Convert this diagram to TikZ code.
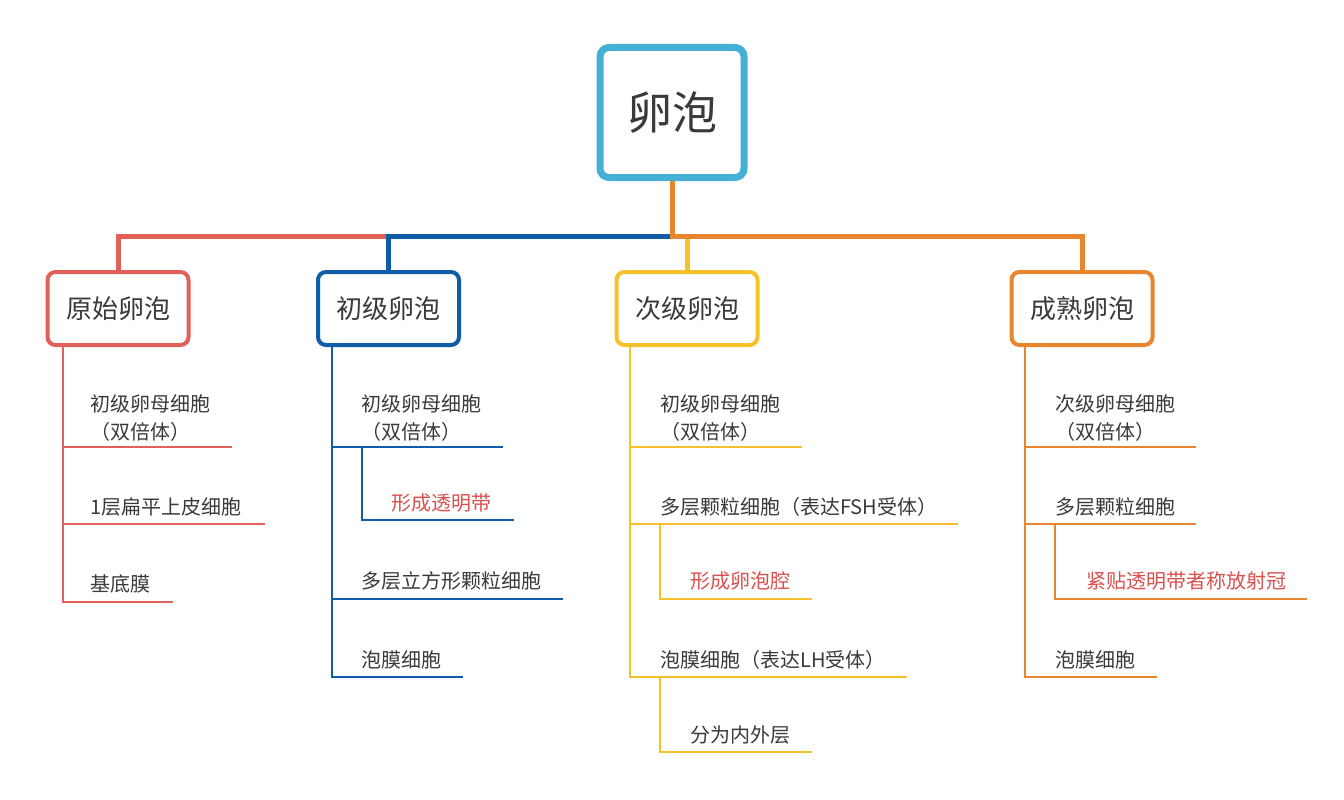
\documentclass[tikz,border=0pt]{standalone}
\usepackage{fontspec}
\setmainfont{Noto Sans CJK SC}
\usetikzlibrary{calc}
\definecolor{cRoot}{HTML}{45B0D5}
\definecolor{cRed}{HTML}{E2605A}
\definecolor{cBlue}{HTML}{0F5DA8}
\definecolor{cYel}{HTML}{F6C12A}
\definecolor{cOra}{HTML}{E8852D}
\definecolor{cTxt}{HTML}{3A3A3A}
\definecolor{cHi}{HTML}{D9514E}
\tikzset{
  rootbox/.style={draw=cRoot, line width=7pt, rounded corners=9pt, fill=white,
    minimum width=144pt, minimum height=130pt, inner sep=0pt,
    font=\fontsize{45}{50}\selectfont, text=cTxt},
  lvbox/.style={draw=#1, line width=4pt, rounded corners=8pt, fill=white,
    minimum width=141pt, minimum height=73pt, inner sep=0pt,
    font=\fontsize{26}{30}\selectfont, text=cTxt},
  bar/.style={draw=#1, line width=5pt, line join=miter},
  sub/.style={draw=#1, line width=1.5pt},
  item/.style={anchor=west, inner sep=0pt, align=left, text=cTxt,
    font=\fontsize{20}{28}\selectfont},
  hi/.style={item, text=cHi}
}
\begin{document}
\begin{tikzpicture}[x=1pt,y=-1pt]
\useasboundingbox (0,0) rectangle (1344,800);
\fill[white] (0,0) rectangle (1344,800);

% root and level boxes
\node[rootbox] (root) at (672,112.5) {卵泡};
\node[lvbox=cRed]  (L1) at (118,308.5) {原始卵泡};
\node[lvbox=cBlue] (L2) at (388.5,308.5) {初级卵泡};
\node[lvbox=cYel]  (L3) at (687,308.5) {次级卵泡};
\node[lvbox=cOra]  (L4) at (1082,308.5) {成熟卵泡};

\coordinate (jR) at (118,236);
\coordinate (jB) at (388.5,236);
\coordinate (jO) at (672,236);
\coordinate (jE) at (1082,236);
\coordinate (jY) at (687,236);

\draw[bar=cYel] (L3.north) -- (jY);
\draw[bar=cRed] (L1.north) -- (jR) -- (jB);
\draw[bar=cBlue] (L2.north) -- (jB) -- (jO);
\draw[bar=cOra] (root.south) -- (jO) -- (jE) -- (L4.north);

% ---------- column 1 (red)
\node[item] (a1) at (90,418) {初级卵母细胞\\（双倍体）};
\node[item] (a2) at (90,507) {1层扁平上皮细胞};
\node[item] (a3) at (90,584) {基底膜};
\coordinate (a1s) at (63,447); \coordinate (a1e) at (232,447);
\coordinate (a2s) at (63,524); \coordinate (a2e) at (265,524);
\coordinate (a3s) at (63,602); \coordinate (a3e) at (173,602);
\draw[sub=cRed] (L1.south -| a1s) -- (a3s) -- (a3e);
\draw[sub=cRed] (a1s) -- (a1e);
\draw[sub=cRed] (a2s) -- (a2e);

% ---------- column 2 (blue)
\node[item] (b1) at (361,418) {初级卵母细胞\\（双倍体）};
\node[hi]   (b2) at (391,503) {形成透明带};
\node[item] (b3) at (361,581) {多层立方形颗粒细胞};
\node[item] (b4) at (361,660) {泡膜细胞};
\coordinate (b1s) at (332,447); \coordinate (b1e) at (503,447);
\coordinate (b2s) at (362,447); \coordinate (b2m) at (362,520); \coordinate (b2e) at (514,520);
\coordinate (b3s) at (332,599); \coordinate (b3e) at (563,599);
\coordinate (b4s) at (332,677); \coordinate (b4e) at (463,677);
\draw[sub=cBlue] (L2.south -| b1s) -- (b4s) -- (b4e);
\draw[sub=cBlue] (b1s) -- (b1e);
\draw[sub=cBlue] (b2s) -- (b2m) -- (b2e);
\draw[sub=cBlue] (b3s) -- (b3e);

% ---------- column 3 (yellow)
\node[item] (c1) at (660,418) {初级卵母细胞\\（双倍体）};
\node[item] (c2) at (660,507) {多层颗粒细胞（表达FSH受体）};
\node[hi]   (c3) at (690,581) {形成卵泡腔};
\node[item] (c4) at (660,660) {泡膜细胞（表达LH受体）};
\node[item] (c5) at (690,735) {分为内外层};
\coordinate (c1s) at (630,447); \coordinate (c1e) at (802,447);
\coordinate (c2s) at (630,524); \coordinate (c2e) at (958,524);
\coordinate (c3s) at (660,524); \coordinate (c3m) at (660,599); \coordinate (c3e) at (812,599);
\coordinate (c4s) at (630,677); \coordinate (c4e) at (907,677);
\coordinate (c5s) at (660,677); \coordinate (c5m) at (660,752); \coordinate (c5e) at (812,752);
\draw[sub=cYel] (L3.south -| c1s) -- (c4s) -- (c4e);
\draw[sub=cYel] (c1s) -- (c1e);
\draw[sub=cYel] (c2s) -- (c2e);
\draw[sub=cYel] (c3s) -- (c3m) -- (c3e);
\draw[sub=cYel] (c5s) -- (c5m) -- (c5e);

% ---------- column 4 (orange)
\node[item] (d1) at (1055,418) {次级卵母细胞\\（双倍体）};
\node[item] (d2) at (1055,507) {多层颗粒细胞};
\node[hi]   (d3) at (1086,581) {紧贴透明带者称放射冠};
\node[item] (d4) at (1055,660) {泡膜细胞};
\coordinate (d1s) at (1025,447); \coordinate (d1e) at (1196,447);
\coordinate (d2s) at (1025,524); \coordinate (d2e) at (1196,524);
\coordinate (d3s) at (1055,524); \coordinate (d3m) at (1055,599); \coordinate (d3e) at (1307,599);
\coordinate (d4s) at (1025,677); \coordinate (d4e) at (1157,677);
\draw[sub=cOra] (L4.south -| d1s) -- (d4s) -- (d4e);
\draw[sub=cOra] (d1s) -- (d1e);
\draw[sub=cOra] (d2s) -- (d2e);
\draw[sub=cOra] (d3s) -- (d3m) -- (d3e);
\end{tikzpicture}
\end{document}
